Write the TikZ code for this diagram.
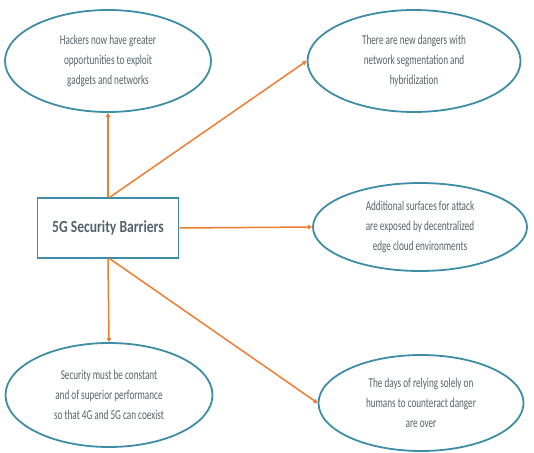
\documentclass[tikz,border=0pt]{standalone}
\usepackage{fontspec}
\setmainfont{Carlito}
\newfontfamily\bubblefont[FakeStretch=0.68]{Carlito}
\newfontfamily\titlefont[FakeStretch=0.8]{Carlito}
\usetikzlibrary{arrows.meta, shapes.geometric}
\definecolor{ringblue}{HTML}{3E8DA6}
\definecolor{arroworange}{HTML}{ED7D31}
\definecolor{textgray}{HTML}{56626B}

\begin{document}
\begin{tikzpicture}[x=1pt, y=-1pt,
  bubble/.style={ellipse, draw=ringblue, line width=1.8pt, text=textgray, align=center,
    inner sep=0pt, font=\bubblefont\fontsize{13.5}{20}\selectfont},
  link/.style={-{Triangle[length=4pt,width=4.5pt]}, arroworange, line width=1.5pt}]
  \useasboundingbox (0,0) rectangle (534,452);

  % Centre box
  \node[draw=ringblue, line width=1.8pt, minimum width=141pt, minimum height=60pt,
    text=textgray, font=\titlefont\bfseries\fontsize{17}{20}\selectfont] (barriers) at (108,228) {5G Security Barriers};

  % Bubbles
  \node[bubble, minimum width=206pt, minimum height=102pt] (hackers) at (108,61)
    {Hackers now have greater\\opportunities to exploit\\gadgets and networks};
  \node[bubble, minimum width=213pt, minimum height=102pt] (dangers) at (414,61)
    {There are new dangers with\\network segmentation and\\hybridization};
  \node[bubble, minimum width=214pt, minimum height=88pt] (surfaces) at (420,227)
    {Additional surfaces for attack\\are exposed by decentralized\\edge cloud environments};
  \node[bubble, minimum width=207pt, minimum height=104pt] (coexist) at (109,395)
    {Security must be constant\\and of superior performance\\so that 4G and 5G can coexist};
  \node[bubble, minimum width=205pt, minimum height=96pt] (humans) at (421,403)
    {The days of relying solely on\\humans to counteract danger\\are over};

  % Arrows
  \draw[link] (barriers.north) -- (hackers.south);
  \draw[link] ([xshift=2pt]barriers.north) -- (dangers.west);
  \draw[link] (barriers.east) -- (surfaces.west);
  \draw[link] (barriers.south) -- (coexist.north);
  \draw[link] ([xshift=2pt]barriers.south) -- (humans.west);
\end{tikzpicture}
\end{document}
